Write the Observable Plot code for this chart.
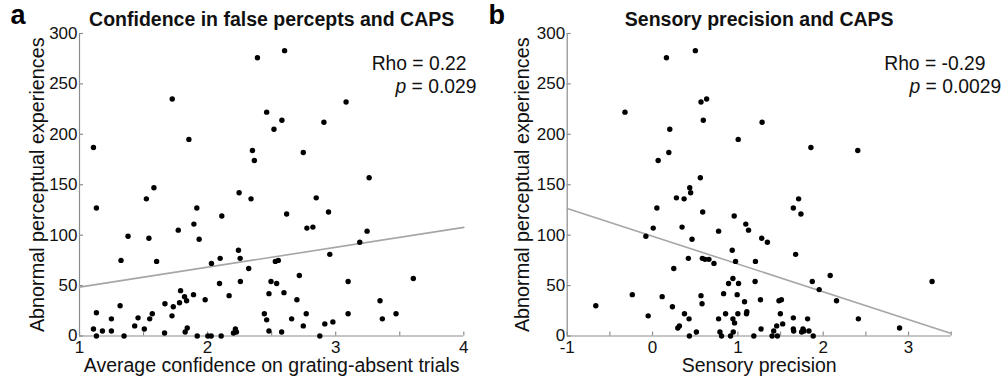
<!DOCTYPE html>
<html><head><meta charset="utf-8">
<script src="https://cdn.jsdelivr.net/npm/d3@7"></script>
<script src="https://cdn.jsdelivr.net/npm/@observablehq/plot@0.6"></script>
<style>
body{margin:0;background:#fff}
#wrap{position:relative;width:1001px;height:376px;background:#fff}
.panel{position:absolute;top:0}
</style></head><body>
<div id="wrap"><div id="pa" class="panel" style="left:0"></div><div id="pb" class="panel" style="left:488px"></div></div>
<script>
// Panel a data
const confA = [1.109,1.132,1.132,1.109,1.132,1.179,1.249,1.249,1.317,1.324,1.348,1.379,1.431,1.457,1.506,1.522,1.542,1.548,1.568,1.581,1.602,1.664,1.667,1.722,1.724,1.732,1.771,1.781,1.789,1.820,1.825,1.836,1.841,1.854,1.890,1.893,1.916,1.919,1.934,1.981,2.002,2.028,2.030,2.093,2.098,2.106,2.111,2.168,2.202,2.217,2.225,2.241,2.246,2.254,2.256,2.321,2.339,2.350,2.365,2.389,2.443,2.461,2.461,2.479,2.479,2.495,2.518,2.529,2.539,2.552,2.578,2.580,2.596,2.601,2.617,2.656,2.697,2.716,2.747,2.747,2.770,2.775,2.822,2.848,2.876,2.908,2.915,2.944,2.954,2.978,3.081,3.097,3.097,3.188,3.245,3.261,3.346,3.364,3.471,3.606];
const capsA = [187,127,23,7,0,5,17,5,30,75,0,99,10,18,7,136,97,17,22,147,74,3,32,20,235,29,105,33,45,39,4,35,8,195,41,111,127,0,96,36,0,0,72,52,77,0,119,40,3,7,4,85,142,77,54,67,136,184,174,276,22,222,16,42,5,54,205,74,52,75,4,214,43,283,121,17,36,60,10,182,22,107,108,137,0,212,12,123,81,14,232,54,22,93,104,157,35,17,22,57];
const fitAx = [1, 4];
const fitAy = [48.5, 107.7];
// Panel b data
const sensB = [-0.665,-0.323,-0.237,-0.078,-0.051,0.008,0.051,0.066,0.113,0.191,0.202,0.163,0.233,0.249,0.280,0.296,0.315,0.346,0.370,0.374,0.420,0.428,0.432,0.436,0.447,0.463,0.502,0.514,0.560,0.568,0.568,0.580,0.584,0.588,0.595,0.615,0.634,0.661,0.720,0.774,0.774,0.790,0.809,0.833,0.856,0.891,0.914,0.934,0.942,0.942,0.946,0.957,0.961,0.973,0.992,1.000,1.008,1.004,1.078,1.093,1.101,1.105,1.125,1.187,1.202,1.206,1.265,1.272,1.280,1.284,1.346,1.401,1.420,1.455,1.463,1.482,1.498,1.510,1.525,1.650,1.650,1.650,1.654,1.677,1.712,1.739,1.747,1.763,1.774,1.817,1.833,1.856,1.872,1.883,1.953,2.082,2.156,2.405,2.412,2.895,3.276];
const capsB = [30,222,41,99,20,107,127,174,39,182,205,276,29,67,137,8,10,108,136,22,77,17,0,147,142,96,283,4,157,232,40,32,77,123,214,76,235,76,72,17,104,4,0,42,22,52,0,85,57,17,4,119,13,74,41,22,52,195,34,111,22,24,105,0,54,74,36,7,97,212,93,0,5,10,0,35,22,36,12,18,127,7,5,81,136,121,4,7,5,17,5,187,54,0,46,60,35,184,17,8,54];
const fitBx = [-1, 3.5];
const fitBy = [126.5, 2.5];
// Axes / ticks / labels
const yTicks = [0, 50, 100, 150, 200, 250, 300];
const xTicksA = [1, 1.5, 2, 2.5, 3, 3.5, 4];
const xLabelsA = [1, 2, 3, 4];
const xTicksB = [-1, -0.5, 0, 0.5, 1, 1.5, 2, 2.5, 3, 3.5];
const xLabelsB = [-1, 0, 1, 2, 3];
const yLabel = "Abnormal perceptual experiences";

const FONT = '"Liberation Sans", Arial, Helvetica, sans-serif';
const H = 376, MT = 33, MB = 40.5;

function panel(o) {
  const frameH = H - MT - MB;
  const frameW = o.width - o.marginLeft - o.marginRight;
  const pts = o.xs.map((x, i) => ({x, y: o.ys[i]}));
  const fit = o.fitX.map((x, i) => ({x, y: o.fitY[i]}));
  const axisColor = "#8c8c8c";
  const svg = Plot.plot({
    width: o.width, height: H,
    marginTop: MT, marginBottom: MB, marginLeft: o.marginLeft, marginRight: o.marginRight,
    style: {fontFamily: FONT, fontSize: "17px", color: "#111", background: "transparent"},
    x: {domain: o.xDomain},
    y: {domain: [0, 300]},
    marks: [
      Plot.ruleX([o.xDomain[0]], {stroke: axisColor, strokeWidth: 1.2}),
      Plot.ruleY([0], {stroke: axisColor, strokeWidth: 1.2}),
      Plot.ruleX(o.xTicks, {x: d => d, insetTop: frameH - 4, stroke: axisColor, strokeWidth: 1.2}),
      Plot.ruleY(yTicks, {y: d => d, insetRight: frameW - 4, stroke: axisColor, strokeWidth: 1.2}),
      Plot.axisY(yTicks, {tickSize: 0, tickPadding: 2, fontSize: 17, label: null, fill: "#111"}),
      Plot.axisX(o.xLabels, {tickSize: 0, tickPadding: 5, fontSize: 17, label: null, fill: "#111", tickFormat: d => String(d)}),
      Plot.line(fit, {x: "x", y: "y", stroke: "#a6a6a6", strokeWidth: 1.6}),
      Plot.dot(pts, {x: "x", y: "y", r: 2.7, fill: "#000", stroke: "none"}),
      Plot.text([o.title], {frameAnchor: "top", textAnchor: "middle", lineAnchor: "bottom", dy: -8, fontWeight: "bold", fontSize: 19.5, fill: "#111"}),
      Plot.text([o.letter], {frameAnchor: "top-left", textAnchor: "start", lineAnchor: "bottom", dx: o.letterDx, dy: -10, fontWeight: "bold", fontSize: 27, fill: "#000"}),
      Plot.text([yLabel], {frameAnchor: "left", textAnchor: "middle", lineAnchor: "middle", rotate: -90, dx: o.yLabelDx, fontSize: 19.8, fill: "#111"}),
      Plot.text([o.xLabel], {frameAnchor: "bottom", textAnchor: "middle", lineAnchor: "bottom", dy: 36.2, fontSize: 19.5, fill: "#111"}),
      Plot.text([o.rho], {frameAnchor: "top-right", textAnchor: "end", lineAnchor: "bottom", dx: o.rhoDx, dy: 36, fontSize: 19.3, fill: "#111"}),
      Plot.text([o.p], {frameAnchor: "top-right", textAnchor: "end", lineAnchor: "bottom", dx: o.pDx, dy: 59.3, fontSize: 19.3, fill: "#111"})
    ]
  });
  // italic "p"
  d3.select(svg).selectAll("text").each(function() {
    if (this.textContent === o.p) {
      const rest = o.p.slice(1);
      this.textContent = "";
      d3.select(this).append("tspan").attr("font-style", "italic").text("p");
      d3.select(this).append("tspan").text(rest);
    }
  });
  return svg;
}

document.getElementById("pa").appendChild(panel({
  xs: confA, ys: capsA, fitX: fitAx, fitY: fitAy,
  width: 488, marginLeft: 79, marginRight: 24.7,
  xDomain: [1, 4], xTicks: xTicksA, xLabels: xLabelsA,
  title: "Confidence in false percepts and CAPS",
  xLabel: "Average confidence on grating-absent trials",
  letter: "a", letterDx: -69, yLabelDx: -42.3,
  rho: "Rho = 0.22", p: "p = 0.029", rhoDx: 2.7, pDx: 12.7
}));
document.getElementById("pb").appendChild(panel({
  xs: sensB, ys: capsB, fitX: fitBx, fitY: fitBy,
  width: 513, marginLeft: 78.7, marginRight: 50.3,
  xDomain: [-1, 3.5], xTicks: xTicksB, xLabels: xLabelsB,
  title: "Sensory precision and CAPS",
  xLabel: "Sensory precision",
  letter: "b", letterDx: -78.7, yLabelDx: -45,
  rho: "Rho = -0.29", p: "p = 0.0029", rhoDx: 34.3, pDx: 50
}));
</script>
</body></html>
